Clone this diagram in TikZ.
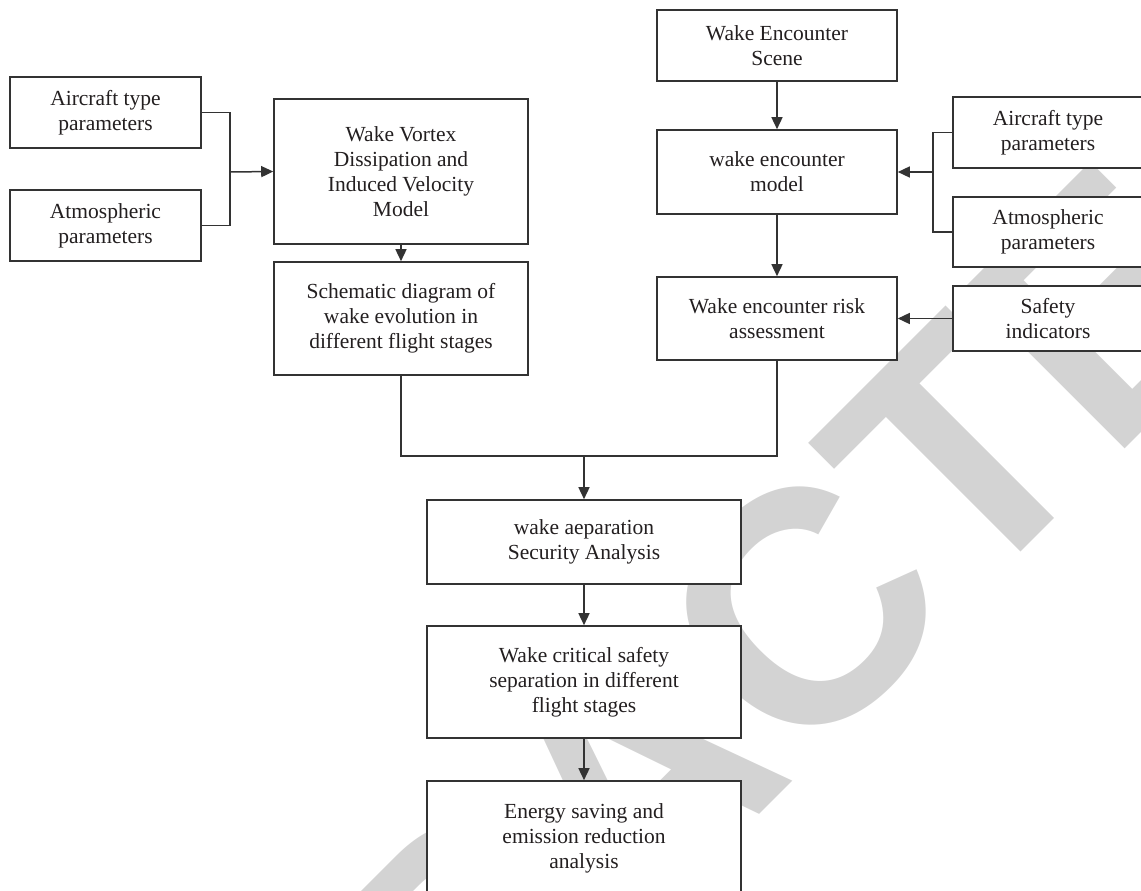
\documentclass[tikz,border=0pt]{standalone}
\usepackage{fontspec}
\setmainfont{Liberation Serif}
\newfontfamily\wmfont{Liberation Sans}
\usetikzlibrary{arrows.meta}
\definecolor{wm}{HTML}{D3D3D3}
\definecolor{ln}{HTML}{333333}
\definecolor{tx}{HTML}{231F20}
\begin{document}
\begin{tikzpicture}[x=1pt,y=-1pt,
  box/.style={draw=ln, line width=1.6pt, fill=white, inner sep=0pt, align=center, text=tx,
    font=\fontsize{21.5}{25}\selectfont},
  conn/.style={draw=ln, line width=1.5pt},
  arr/.style={conn, -{Triangle[length=12pt,width=11pt]}}]
\useasboundingbox (0,0) rectangle (1141,891);
% watermark
\node[rotate=45, text=wm, inner sep=0pt, font=\wmfont\bfseries\fontsize{330}{330}\selectfont] (wmk) at (634,779) {RETRACTED};
% left column
\node[box, minimum width=191pt, minimum height=71pt] (lair) at (105.5,112.5) {Aircraft type\\parameters};
\node[box, minimum width=191pt, minimum height=71pt] (latm) at (105.5,225.5) {Atmospheric\\parameters};
\node[box, minimum width=254pt, minimum height=145pt] (vortex) at (401,171.5) {Wake Vortex\\Dissipation and\\Induced Velocity\\Model};
\node[box, minimum width=254pt, minimum height=113pt] (schem) at (401,318.5) {Schematic diagram of\\wake evolution in\\different flight stages};
% right column
\node[box, minimum width=240pt, minimum height=71pt] (scene) at (777,45.5) {Wake Encounter\\Scene};
\node[box, minimum width=240pt, minimum height=84pt] (model) at (777,172) {wake encounter\\model};
\node[box, minimum width=240pt, minimum height=83pt] (risk) at (777,318.5) {Wake encounter risk\\assessment};
\node[box, minimum width=190pt, minimum height=71pt] (rair) at (1048,132.5) {Aircraft type\\parameters};
\node[box, minimum width=190pt, minimum height=70pt] (ratm) at (1048,232) {Atmospheric\\parameters};
\node[box, minimum width=190pt, minimum height=65pt] (safety) at (1048,318.5) {Safety\\indicators};
% bottom column
\node[box, minimum width=314pt, minimum height=84pt] (security) at (584,542) {wake aeparation\\Security Analysis};
\node[box, minimum width=314pt, minimum height=112pt] (critical) at (584,682) {Wake critical safety\\separation in different\\flight stages};
\node[box, minimum width=314pt, minimum height=114pt] (energy) at (584,838) {Energy saving and\\emission reduction\\analysis};
% junctions
\coordinate (jl) at (230,172);
\coordinate (jr) at (933,172);
\coordinate (jm) at (584,456);
% connectors
\draw[conn] (lair.east) -| (jl) |- (latm.east);
\draw[arr] (jl) -- (vortex.west);
\draw[arr] (vortex.south) -- (schem.north);
\draw[arr] (scene.south) -- (model.north);
\draw[arr] (model.south) -- (risk.north);
\draw[conn] (rair.west) -| (jr) |- (ratm.west);
\draw[arr] (jr) -- (model.east);
\draw[arr] (safety.west) -- (risk.east);
\draw[conn] (schem.south) |- (jm) -| (risk.south);
\draw[arr] (jm) -- (security.north);
\draw[arr] (security.south) -- (critical.north);
\draw[arr] (critical.south) -- (energy.north);
\end{tikzpicture}
\end{document}
